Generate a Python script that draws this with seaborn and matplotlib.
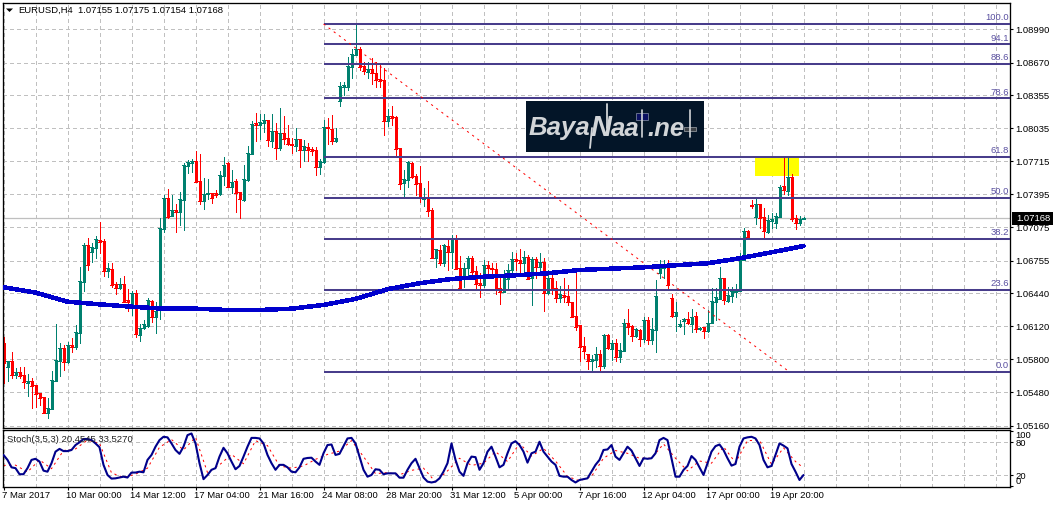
import numpy as np
import pandas as pd
import matplotlib
matplotlib.use('Agg')
import matplotlib.pyplot as plt
from matplotlib.patches import Rectangle
import seaborn as sns

# Prices are kept as points above 1.00000 (1 point = 0.00001)
opens = [5958,5726,5784,5649,5678,5649,5571,5591,5552,5475,
    5436,5281,5320,5591,5784,5910,5774,5939,5920,6055,
    6548,6906,6838,6877,6954,6945,6654,6674,6529,6490,
    6529,6374,6326,6442,6035,6103,6122,6364,6210,6296,
    7061,7360,7186,7244,7225,7341,7670,7699,7718,7525,
    7331,7399,7409,7409,7399,7573,7699,7467,7525,7418,
    7341,7534,7786,8086,8066,8086,8115,7911,8008,7844,
    7989,7940,7882,7863,7931,7825,7854,7834,7825,7660,
    7709,8047,8028,7911,8298,8434,8434,8627,8743,8801,
    8637,8579,8608,8569,8511,8501,8105,8153,8144,7844,
    7505,7534,7699,7573,7505,7351,7360,7244,6780,6858,
    6732,6896,6838,6973,6683,6596,6683,6780,6654,6538,
    6519,6712,6683,6674,6490,6451,6577,6664,6770,6761,
    6732,6790,6587,6770,6693,6742,6442,6587,6490,6393,
    6422,6413,6355,6219,6132,5929,5852,5784,5794,5852,
    5736,6035,5900,5958,5823,5881,6152,6122,6026,6084,
    5997,6181,5987,6084,6635,6683,6712,6393,6219,6122,
    6171,6190,6142,6219,6094,6113,6074,6152,6355,6384,
    6587,6364,6413,6451,6461,6761,7041,7293,7177,7302,
    7177,7032,7138,7119,7177,7476,7428,7563,7167,7119,
    7155]
highs = [6016,5784,5871,5716,5726,5726,5658,5620,5552,5475,
    5436,5426,5687,6142,5958,5939,5968,6006,6132,6693,
    6925,6973,6925,6993,7128,6964,6732,6732,6548,6587,
    6606,6481,6461,6471,6142,6181,6393,6374,6355,7167,
    7390,7447,7390,7302,7418,7699,7728,7738,7815,7786,
    7554,7544,7409,7438,7622,7757,7709,7631,7544,7418,
    7679,7863,8105,8182,8173,8173,8115,8173,8086,8231,
    8153,8066,7940,8037,7931,7921,7892,7854,7854,7738,
    8115,8134,8163,8037,8482,8482,8724,8801,9043,8820,
    8675,8675,8714,8675,8646,8617,8221,8250,8153,7844,
    7631,7718,7709,7592,7670,7457,7525,7264,6867,6906,
    6916,6964,7003,7003,6800,6732,6800,6800,6703,6635,
    6761,6751,6732,6732,6616,6664,6722,6838,6829,6867,
    6848,6809,6790,6790,6829,6780,6664,6645,6558,6510,
    6587,6519,6355,6683,6132,6016,5852,5842,5920,5891,
    6045,6045,5987,5997,5958,6190,6287,6132,6103,6094,
    6210,6210,6200,6567,6761,6761,6761,6432,6355,6181,
    6200,6258,6287,6258,6113,6113,6277,6490,6490,6693,
    6587,6500,6500,6529,6829,7070,7051,7341,7360,7302,
    7264,7196,7215,7215,7486,7747,7747,7592,7196,7186,
    7175]
lows = [5571,5591,5620,5620,5620,5523,5446,5330,5339,5359,
    5281,5233,5320,5591,5639,5697,5765,5871,5900,5958,
    6461,6664,6742,6780,6829,6606,6596,6500,6432,6481,
    6355,6268,6229,6016,5978,6094,6113,6161,6055,6190,
    7032,7167,7186,7032,7100,7051,7602,7612,7515,7302,
    7254,7351,7312,7370,7390,7486,7467,7409,7225,7167,
    7331,7525,7786,7911,7931,7999,7863,7854,7738,7825,
    7882,7873,7795,7815,7660,7718,7718,7776,7583,7592,
    7699,7882,7882,7902,8250,8356,8405,8521,8743,8598,
    8559,8521,8463,8434,8434,7970,8057,8066,7757,7447,
    7380,7467,7554,7390,7321,7283,7186,6780,6693,6712,
    6703,6664,6683,6674,6481,6500,6596,6596,6481,6403,
    6500,6587,6596,6432,6335,6451,6490,6635,6664,6645,
    6645,6577,6326,6587,6635,6268,6432,6432,6355,6355,
    6355,6326,6210,6084,5784,5813,5707,5687,5726,5687,
    5716,5900,5794,5784,5774,5881,6045,5978,6016,5929,
    5968,5949,5949,5871,6587,6587,6490,6210,6074,6113,
    6045,6142,6065,6065,6084,6006,6065,6152,6181,6384,
    6335,6355,6355,6403,6461,6761,6973,7264,7109,7070,
    6973,7022,7070,7070,7177,7399,7390,7138,7061,7100,
    7154]
closes = [5765,5784,5649,5678,5639,5581,5591,5542,5465,5426,
    5281,5330,5600,5794,5910,5774,5939,5920,6065,6558,
    6906,6712,6886,6964,6935,6654,6683,6519,6490,6529,
    6355,6355,6442,6045,6103,6142,6374,6210,6268,7070,
    7360,7177,7244,7225,7351,7679,7709,7718,7515,7331,
    7399,7409,7360,7390,7583,7679,7467,7515,7409,7351,
    7544,7795,8076,8066,8095,8115,7921,8008,7844,7989,
    7931,7882,7873,7931,7825,7863,7825,7815,7660,7718,
    8047,8037,7911,7940,8443,8453,8637,8753,8801,8627,
    8588,8608,8569,8501,8492,8105,8153,8134,7834,7496,
    7544,7709,7563,7496,7360,7370,7235,6780,6867,6732,
    6906,6838,6973,6674,6490,6683,6780,6645,6529,6519,
    6712,6683,6674,6471,6451,6616,6664,6770,6751,6732,
    6790,6577,6770,6693,6742,6442,6587,6481,6393,6432,
    6403,6355,6210,6113,5920,5881,5784,5804,5852,5736,
    6035,5910,5958,5823,5891,6152,6113,6026,6094,5997,
    6181,5987,6094,6413,6683,6712,6519,6219,6258,6142,
    6190,6152,6210,6094,6103,6074,6152,6364,6403,6587,
    6374,6422,6461,6461,6780,7041,6983,7283,7302,7167,
    7041,7148,7157,7186,7467,7438,7563,7157,7119,7157,
    7168]

# Moving average, read every 8 bars
ma_values = [6497,6445,6358,6332,6309,6290,6290,6277,6277,6290,6326,6384,6478,
    6536,6577,6599,6613,6632,6664,6677,6690,6710,6729,6777,6835,6896]

# Stochastic %K for every bar
stoch_k = [57,48,34.5,33,22,22,33,48,50,45,
    28.5,26.6,42,63,68,64,64,66,75,80,
    86,86,84,78,71,39,20.6,14,14.5,16,
    17.5,16,25,25,26.6,25.5,48,57,72,84,
    90,89,78,66,59,72,93,96,78,42,
    13,20.6,30,33,54,70,60,45,31,37,
    54,72,88,88,87,78,57,42,30,39,
    39,34.5,26.6,25.5,34.5,50,51.5,52,45,39,
    60,75,76,57,59,73,87,88,78,54,
    30,17.5,20.6,31,30,22,23.6,23.6,23.6,15.7,
    15.7,30,42,50,33,16,8.5,7,8.5,14.5,
    26.6,42,78,48,26.6,19,42,54,53,30,
    42,63,72,54,34.5,39,60,78,82,75,
    63,43,60,63,81,63,54,45,39,19,
    17.5,17.5,11.5,7,11.5,13,14.5,26.6,39,48,
    66,67,75,54,48,60,72,65,51,37,
    51,50,51,60,84,88,84,51,17.5,17.5,
    29.7,37,55,48,34.5,20.6,42,63,73,76,
    66,51,37.6,40.6,72,87,89,90,87,75,
    48,34.5,37,57,78,74,69,40.6,26.6,11.5,
    20.5]

# Stochastic %D, read every 3 bars plus the last one
stoch_d_bars = list(range(0, 199, 3)) + [200]
stoch_d = [38,38.5,26,48,32,65,68,84,78,24.5,16,22,33,71,85,66,89,25,39,58,41,83,
    74,37,33,37,49,58,64,83,54,23,25,21,29,33,8,28,51,38,42,63,45,78,55,69,46,18,
    10,18,51,65,60,51,51,77,51,28,46,42,72,43,83,84,40,70,45,33.5]

fib_labels = ['100.0', '94.1', '88.6', '78.6', '61.8', '50.0', '38.2', '23.6', '0.0']
fib_prices = [1.09043, 1.08845, 1.08660, 1.08323, 1.07759, 1.07362, 1.06965, 1.06474, 1.05681]
trend_bars = [80, 196.4]
trend_prices = [1.09043, 1.05681]
zone_bars = [187.9, 198.9]
zone_prices = [1.07573, 1.07750]

price_ticks = [1.08990, 1.08670, 1.08355, 1.08035, 1.07715, 1.07395, 1.07075,
    1.06755, 1.06440, 1.06120, 1.05800, 1.05480, 1.05160]
time_labels = ['7 Mar 2017', '10 Mar 00:00', '14 Mar 12:00', '17 Mar 04:00', '21 Mar 16:00',
    '24 Mar 08:00', '28 Mar 20:00', '31 Mar 12:00', '5 Apr 00:00', '7 Apr 16:00',
    '12 Apr 04:00', '17 Apr 00:00', '19 Apr 20:00']
last_price = 1.07168

UP_COLOR = '#00806F'
DOWN_COLOR = '#FF0000'
FIB_COLOR = '#483D8B'
GRID_COLOR = '#C0C0C0'
GRID_DASH = (0, (2.9, 2.9))
FONT_SIZE = 6.8
W, H = 1053, 507

sns.set_theme(style='white', rc={'axes.edgecolor': 'black', 'axes.linewidth': 0.95,
                                 'font.size': FONT_SIZE, 'text.color': 'black'})
plt.rcParams['font.family'] = ['Liberation Sans', 'DejaVu Sans']


def to_price(points):
    return 1.0 + np.asarray(points, dtype=float) / 100000


def px_rect(left, top, right, bottom):
    return [left / W, 1 - bottom / H, (right - left) / W, (bottom - top) / H]


bars = pd.DataFrame({'bar': np.arange(len(opens)), 'open': to_price(opens), 'high': to_price(highs),
                     'low': to_price(lows), 'close': to_price(closes), 'k': stoch_k})
bars['color'] = np.where(bars['close'] >= bars['open'], UP_COLOR, DOWN_COLOR)
ma = pd.DataFrame({'bar': np.arange(len(ma_values)) * 8, 'value': to_price(ma_values)})

fig = plt.figure(figsize=(W / 100, H / 100), dpi=100, facecolor='white')
ax = fig.add_axes(px_rect(2.5, 2.5, 1010, 428.3))
ax_st = fig.add_axes(px_rect(2.5, 430.3, 1010, 486.7))

# Candles
ax.add_patch(Rectangle((zone_bars[0], zone_prices[0]), zone_bars[1] - zone_bars[0],
                       zone_prices[1] - zone_prices[0], color='#FFFF00', lw=0, zorder=1))
ax.axhline(last_price, color='#BFBFBF', lw=0.9, zorder=1.5)
ax.vlines(bars['bar'], bars['low'], bars['high'], colors=bars['color'], lw=0.72, antialiased=False, zorder=2)
ax.vlines(bars['bar'], bars['open'], bars['close'], colors=bars['color'], lw=2.16,
          antialiased=False, capstyle='butt', zorder=2.1)
# thin bodies still show as a short dash
for col in ['open', 'close']:
    ax.hlines(bars[col], bars['bar'] - 0.3, bars['bar'] + 0.3, colors=bars['color'], lw=0.72,
              antialiased=False, zorder=2.1)

# Fibonacci levels and trend line
ax.hlines(fib_prices, 80, 251.625, colors=FIB_COLOR, lw=1.45, zorder=3)
for label, level in zip(fib_labels, fib_prices):
    ax.annotate(label, xy=(1, level), xycoords=('axes fraction', 'data'), xytext=(-0.8, 1.2),
                textcoords='offset points', ha='right', va='bottom', color='#5A50A0', fontsize=FONT_SIZE)
sns.lineplot(x=trend_bars, y=trend_prices, ax=ax, color='#FF0000', linewidth=0.72,
             linestyle=(0, (2.2, 4.2)), zorder=3.2)
sns.lineplot(data=ma, x='bar', y='value', ax=ax, color='#0000CD', linewidth=2.5, antialiased=False, zorder=3.5)

ax.set_xlim(-0.25, 251.625)
ax.set_ylim(1.05133, 1.09251)
ax.set_xlabel('')
ax.set_ylabel('')
ax.set_xticks(np.arange(0, 252, 8))
ax.set_xticklabels([])
ax.yaxis.tick_right()
ax.set_yticks(price_ticks)
ax.set_yticklabels([f'{p:.5f}' for p in price_ticks])
ax.tick_params(axis='y', length=2.5, width=0.8, pad=1.2, labelsize=FONT_SIZE, colors='black', right=True)
ax.tick_params(axis='x', length=0)
ax.grid(True, color=GRID_COLOR, lw=0.8, linestyle=GRID_DASH, antialiased=False, zorder=0)
ax.set_axisbelow(True)

# Stochastic panel
sns.lineplot(x=stoch_d_bars, y=stoch_d, ax=ax_st, color='#FF0000', linewidth=0.72,
             linestyle=(0, (2.2, 3.5)), zorder=2)
sns.lineplot(data=bars, x='bar', y='k', ax=ax_st, color='#00008B', linewidth=1.5, zorder=3)
ax_st.set_xlim(-0.25, 251.625)
ax_st.set_ylim(-0.7, 101.8)
ax_st.set_xlabel('')
ax_st.set_ylabel('')
ax_st.set_xticks(np.arange(len(time_labels)) * 16)
ax_st.set_xticklabels([])
ax_st.set_xticks(np.arange(0, 252, 8), minor=True)
for pos, label in zip(np.arange(len(time_labels)) * 16, time_labels):
    ax_st.annotate(label, xy=(pos, 0), xycoords=('data', 'axes fraction'), xytext=(-1.1, -3.0),
                   textcoords='offset points', ha='left', va='top', fontsize=FONT_SIZE,
                   annotation_clip=False)
ax_st.tick_params(axis='x', which='major', length=2.2, width=0.8, colors='black', bottom=True)
ax_st.tick_params(axis='x', which='minor', length=0)
ax_st.yaxis.tick_right()
ax_st.set_yticks([20, 80])
ax_st.set_yticklabels(['20', '80'])
ax_st.set_yticks([0, 100], minor=True)
ax_st.set_yticklabels(['0', '100'], minor=True)
for lab, align in zip(ax_st.get_yticklabels(minor=True), ['bottom', 'top']):
    lab.set_va(align)
ax_st.tick_params(axis='y', which='both', length=2.5, width=0.8, pad=1.2, labelsize=FONT_SIZE, colors='black', right=True)
ax_st.grid(True, axis='x', which='both', color=GRID_COLOR, lw=0.8, linestyle=GRID_DASH, antialiased=False, zorder=0)
ax_st.grid(True, axis='y', which='major', color=GRID_COLOR, lw=0.8, linestyle=GRID_DASH, antialiased=False, zorder=0)
ax_st.set_axisbelow(True)

# Overlay in pixel coordinates for the header, the logo and the price box
px = fig.add_axes([0, 0, 1, 1], facecolor='none')
px.set_xlim(0, W)
px.set_ylim(H, 0)
px.axis('off')

px.fill([6, 13, 9.5], [8.5, 8.5, 12], color='black', lw=0)
px.text(18, 10.5, 'EURUSD,H4', va='center', fontsize=FONT_SIZE)
px.text(78, 10.5, '1.07155 1.07175 1.07154 1.07168', va='center', fontsize=FONT_SIZE)
px.text(7, 439.5, 'Stoch(3,5,3) 20.4545 33.5270', va='center', fontsize=FONT_SIZE, color='#222222')

# Current price box
px.add_patch(Rectangle((1012, 212), 41, 13, color='black', lw=0))
px.text(1016.5, 218.7, f'{last_price:.5f}', va='center', color='white', fontsize=FONT_SIZE)

# Logo
LOGO_GREY = '#D2D5D8'
px.add_patch(Rectangle((526, 101), 178, 51, color='#031528', lw=0))
logo = dict(color=LOGO_GREY, fontsize=18.5, fontweight='bold', fontstyle='italic', va='center')
px.text(529, 128.5, 'Baya', **logo)
px.text(590, 128, 'N', **{**logo, 'fontsize': 21})
px.text(611, 128.5, 'aa', **logo)
px.text(647, 128.5, '.ne', **logo)
px.plot([607, 607], [104, 128], color=LOGO_GREY, lw=1.3)
px.plot([590, 592], [148, 128], color=LOGO_GREY, lw=1.3)
px.plot([642, 642], [110, 137], color=LOGO_GREY, lw=1.2)
px.add_patch(Rectangle((635.5, 113), 12.5, 7, facecolor='#0A1060', edgecolor='#8A93A8', lw=0.5))
px.plot([690, 690], [110, 137], color=LOGO_GREY, lw=1.2)
px.add_patch(Rectangle((684, 127), 12, 4, facecolor='#3A3F45', edgecolor='#C0C4C8', lw=0.4))

fig.savefig('out.png', dpi=100)
